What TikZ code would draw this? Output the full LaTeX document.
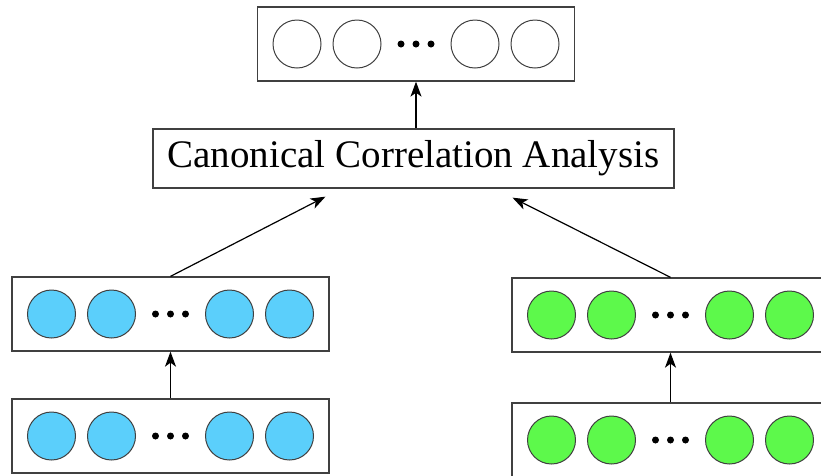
\documentclass[tikz,border=0pt]{standalone}
\usepackage{fontspec}
\setmainfont{Liberation Serif}
\usetikzlibrary{calc,arrows.meta}
\definecolor{viewA}{HTML}{5BCFFB}
\definecolor{viewB}{HTML}{5DF94B}
\definecolor{edge}{HTML}{404040}

\begin{document}
\begin{tikzpicture}[x=1pt, y=-1pt,
	layer/.style={draw=edge, line width=1.3pt, rectangle, minimum width=317pt, minimum height=74pt, inner sep=0pt},
	unit/.style={draw=edge, line width=1pt, circle, minimum size=48pt, inner sep=0pt},
	link/.style={line width=1.2pt, -{Stealth[length=15pt, width=11pt, inset=4pt]}}]
		%%%%% START %%%%%
		\useasboundingbox (0, 0) rectangle (821, 475);
		\clip (0, 0) rectangle (821, 475);
		
		% layers of units
		\foreach \n/\x/\y/\c in {out/416/44/white, lmid/170.5/314/viewA, lbot/170.5/436/viewA, rmid/670.5/315/viewB, rbot/670.5/440/viewB}{
			\node[layer] (\n) at (\x, \y) {};
			\foreach \dx [count=\i] in {-119, -59, 59, 119}
				\node[unit, fill=\c] (\n-\i) at ($(\n)+(\dx, 0)$) {};
			\foreach \dx in {-15, 0, 15}
				\fill ($(\n)+(\dx, 0)$) circle (3.5);
		}
		
		\node[draw=edge, line width=1.3pt, minimum width=521pt, minimum height=59pt, inner sep=0pt, font=\fontsize{39}{47}\selectfont] (cca) at (413.5, 158.5) {Canonical Correlation Analysis};
		
		\coordinate (ccaL) at ($(cca.south)+(-88, 8)$);
		\coordinate (ccaR) at ($(cca.south)+(99, 9)$);
		
		% connectors
		\draw[link] (lbot.north) -- (lmid.south);
		\draw[link] (rbot.north) -- (rmid.south);
		\draw[link] (lmid.north) -- (ccaL);
		\draw[link] (rmid.north) -- (ccaR);
		\draw[link] (cca.north -| out.south) -- (out.south);
		%%%%% END %%%%%
	\end{tikzpicture}
\end{document}
